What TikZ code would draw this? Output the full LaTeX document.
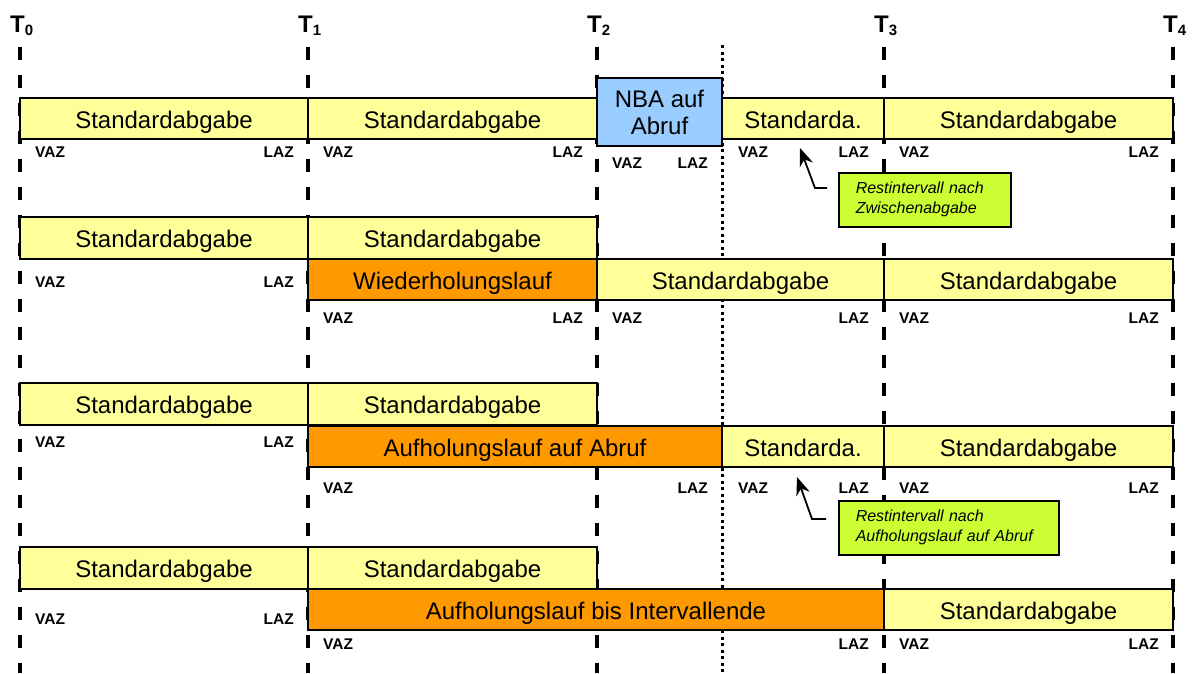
\documentclass[tikz,border=0pt]{standalone}
\usepackage{fontspec}
\setmainfont{Liberation Sans}
\usetikzlibrary{arrows.meta}
\pgfdeclarelayer{bg}
\pgfsetlayers{bg,main}
\definecolor{stdyellow}{HTML}{FFFF99}
\definecolor{nbablue}{HTML}{99CCFF}
\definecolor{runorange}{HTML}{FF9900}
\definecolor{notelime}{HTML}{CCFF33}
\tikzset{
  interval/.style={draw=black, line width=1.5pt, rectangle, inner sep=0pt, text depth=0pt, text height=19pt, font=\fontsize{24}{28}\selectfont},
  stdint/.style={interval, fill=stdyellow},
  runint/.style={interval, fill=runorange},
  nbaint/.style={draw=black, line width=1.5pt, rectangle, fill=nbablue, inner sep=0pt, align=center, font=\fontsize{24}{27}\selectfont},
  vaz/.style={anchor=base west, inner sep=0pt, font=\bfseries\fontsize{15.5}{17}\selectfont},
  laz/.style={anchor=base east, inner sep=0pt, font=\bfseries\fontsize{15.5}{17}\selectfont},
  tlabel/.style={anchor=base west, inner sep=0pt, font=\bfseries\fontsize{24}{26}\selectfont},
  tline/.style={line width=3.6pt, dash pattern=on 13pt off 15pt},
  midline/.style={line width=3pt, dash pattern=on 3pt off 3.5pt},
  note/.style={draw=black, line width=1.5pt, fill=notelime, anchor=north west, inner xsep=17pt, inner ysep=0pt, align=left, minimum height=54pt, font=\itshape\fontsize{16}{20}\selectfont},
  notearrow/.style={line width=1.8pt, -{Stealth[length=18pt,width=14pt]}}
}

\begin{document}
\begin{tikzpicture}[x=1pt, y=-1pt]
    \useasboundingbox (0,0) rectangle (1192,673);

    % time marks
    \foreach \x/\i in {20/0, 308/1, 597/2, 884/3, 1173/4}
        \node (t\i) [tlabel] at (\x-10,32) {T\raisebox{-3pt}{\fontsize{15}{15}\selectfont\i}};

    \begin{pgfonlayer}{bg}
        \draw[midline] (722,45) -- (722,673);
        \foreach \x in {20, 308, 597, 884, 1173}
            \draw[tline] (\x,47) -- (\x,673);
    \end{pgfonlayer}

    % row 1
    \node (a1) [stdint, minimum width=288pt, minimum height=41pt] at (164,118.5) {Standardabgabe};
    \node (a2) [stdint, minimum width=289pt, minimum height=41pt] at (452.5,118.5) {Standardabgabe};
    \node (nba) [nbaint, minimum width=125pt, minimum height=68pt] at (659.5,112) {NBA auf\\Abruf};
    \node (a3) [stdint, minimum width=162pt, minimum height=41pt] at (803,118.5) {Standarda.};
    \node (a4) [stdint, minimum width=289pt, minimum height=41pt] at (1028.5,118.5) {Standardabgabe};

    % row 2
    \node (b1) [stdint, minimum width=288pt, minimum height=42pt] at (164,238) {Standardabgabe};
    \node (b2) [stdint, minimum width=289pt, minimum height=42pt] at (452.5,238) {Standardabgabe};
    \node (wh) [runint, minimum width=289pt, minimum height=41pt] at (452.5,279.5) {Wiederholungslauf};
    \node (b3) [stdint, minimum width=287pt, minimum height=41pt] at (740.5,279.5) {Standardabgabe};
    \node (b4) [stdint, minimum width=289pt, minimum height=41pt] at (1028.5,279.5) {Standardabgabe};

    % row 3
    \node (c1) [stdint, minimum width=288pt, minimum height=42pt] at (164,404) {Standardabgabe};
    \node (c2) [stdint, minimum width=289pt, minimum height=42pt] at (452.5,404) {Standardabgabe};
    \node (aa) [runint, minimum width=414pt, minimum height=41pt] at (515,446.5) {Aufholungslauf auf Abruf};
    \node (c3) [stdint, minimum width=162pt, minimum height=41pt] at (803,446.5) {Standarda.};
    \node (c4) [stdint, minimum width=289pt, minimum height=41pt] at (1028.5,446.5) {Standardabgabe};

    % row 4
    \node (d1) [stdint, minimum width=288pt, minimum height=42pt] at (164,568) {Standardabgabe};
    \node (d2) [stdint, minimum width=289pt, minimum height=42pt] at (452.5,568) {Standardabgabe};
    \node (ai) [runint, minimum width=576pt, minimum height=41pt] at (596,609.5) {Aufholungslauf bis Intervallende};
    \node (d3) [stdint, minimum width=289pt, minimum height=41pt] at (1028.5,609.5) {Standardabgabe};

    % VAZ / LAZ
    \foreach \x/\y [count=\i] in {35/157, 323/157, 612/168, 738/157, 899/157,
                                  35/287, 323/323, 612/323, 899/323,
                                  35/447, 323/493, 738/493, 899/493,
                                  35/624, 323/649, 899/649}
        \node (vaz\i) [vaz] at (\x,\y) {VAZ};
    \foreach \x/\y [count=\i] in {294/157, 583/157, 708/168, 869/157, 1159/157,
                                  294/287, 583/323, 869/323, 1159/323,
                                  294/447, 708/493, 869/493, 1159/493,
                                  294/624, 869/649, 1159/649}
        \node (laz\i) [laz] at (\x,\y) {LAZ};

    % notes
    \node (n1) [note, text width=138pt] at (838,172) {Restintervall nach\\Zwischenabgabe};
    \node (n2) [note, text width=186pt] at (838,500) {Restintervall nach\\Aufholungslauf auf Abruf};

    \coordinate (s1) at (827,188);
    \coordinate (k1) at (815,188);
    \coordinate (p1) at (800,148);
    \coordinate (s2) at (826,519);
    \coordinate (k2) at (812,519);
    \coordinate (p2) at (797,477);
    \draw[notearrow] (s1) -- (k1) -- (p1);
    \draw[notearrow] (s2) -- (k2) -- (p2);
\end{tikzpicture}
\end{document}
